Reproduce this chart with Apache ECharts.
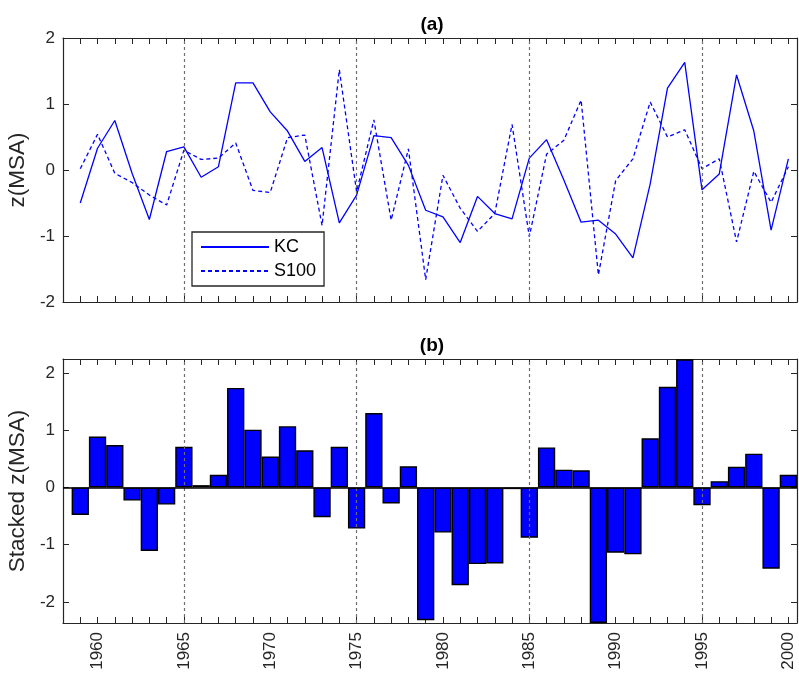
<!DOCTYPE html>
<html>
<head>
<meta charset="utf-8">
<script src="https://cdn.jsdelivr.net/npm/echarts@6/dist/echarts.min.js"></script>
<style>
html,body{margin:0;padding:0;background:#fff;}
#chart{width:799px;height:676px;}
</style>
</head>
<body>
<div id="chart"></div>
<script>
// ---- data ----
var years = [1959,1960,1961,1962,1963,1964,1965,1966,1967,1968,
             1969,1970,1971,1972,1973,1974,1975,1976,1977,1978,
             1979,1980,1981,1982,1983,1984,1985,1986,1987,1988,
             1989,1990,1991,1992,1993,1994,1995,1996,1997,1998,
             1999,2000];
var kc = [-0.50,0.33,0.75,-0.05,-0.75,0.28,0.35,-0.11,0.05,1.32,
          1.32,0.88,0.59,0.13,0.34,-0.80,-0.38,0.52,0.49,0.07,
          -0.61,-0.71,-1.10,-0.40,-0.66,-0.74,0.18,0.46,-0.15,-0.79,
          -0.76,-0.97,-1.33,-0.21,1.24,1.63,-0.30,-0.06,1.44,0.59,
          -0.91,0.17];
var s100 = [0.02,0.54,-0.05,-0.19,-0.38,-0.53,0.30,0.16,0.18,0.41,
            -0.31,-0.34,0.49,0.53,-0.84,1.52,-0.33,0.76,-0.76,0.32,
            -1.66,-0.08,-0.58,-0.93,-0.66,0.69,-1.01,0.24,0.45,1.06,
            -1.59,-0.16,0.17,1.03,0.50,0.61,0.02,0.17,-1.09,-0.02,
            -0.49,0.05];
var stacked = [-0.48,0.89,0.74,-0.23,-1.11,-0.30,0.71,0.04,0.22,1.74,
               1.01,0.54,1.07,0.65,-0.52,0.71,-0.72,1.30,-0.28,0.37,
               -2.32,-0.79,-1.71,-1.34,-1.33,-0.03,-0.88,0.70,0.31,0.30,
               -2.37,-1.14,-1.17,0.86,1.76,2.24,-0.31,0.11,0.36,0.59,
               -1.42,0.22];
var markerYears = [1965,1975,1985,1995];
var xTickValues = [1959,1960,1961,1962,1963,1964,1965,1966,1967,1968,
                   1969,1970,1971,1972,1973,1974,1975,1976,1977,1978,
                   1979,1980,1981,1982,1983,1984,1985,1986,1987,1988,
                   1989,1990,1991,1992,1993,1994,1995,1996,1997,1998,
                   1999,2000];
var xLabelValues = [1960,1965,1970,1975,1980,1985,1990,1995,2000];
var yTicksA = [-2,-1,0,1,2];
var yTicksB = [-2,-1,0,1,2];

function pairs(xs, ys){ return xs.map(function(x,i){ return [x, ys[i]]; }); }

var FONT = "'Liberation Sans', Arial, Helvetica, sans-serif";
var AX = '#262626';
var BLUE = '#0000ff';

function xAxisCfg(grid, pos, labels){
  return {
    type:'value', gridIndex:grid, position:pos, min:1958, max:2000.5,
    axisLine:{show:true, onZero:false, lineStyle:{color:AX, width:1.2}},
    axisTick:{show:true, inside:true, length:6, customValues:xTickValues, lineStyle:{color:AX, width:1}},
    axisLabel:{show:labels, customValues:xLabelValues, rotate:90, margin:9, fontSize:17, color:AX, fontFamily:FONT,
      formatter:function(v){ return String(v); }},
    splitLine:{show:false}
  };
}
function yAxisCfg(grid, pos, labels, min, max, ticks, name){
  return {
    type:'value', gridIndex:grid, position:pos, min:min, max:max,
    name: name || '', nameLocation:'middle', nameGap:23,
    nameTextStyle:{fontSize:22.5, color:AX, fontFamily:FONT},
    axisLine:{show:true, onZero:false, lineStyle:{color:AX, width:1.2}},
    axisTick:{show:true, inside:true, length:6, customValues:ticks, lineStyle:{color:AX, width:1}},
    axisLabel:{show:labels, customValues:ticks, margin:8, fontSize:17, color:AX, fontFamily:FONT,
      formatter:function(v){ return String(v); }},
    splitLine:{show:false}
  };
}

var markerLines = markerYears.map(function(y){ return {xAxis:y}; });
var dashStyle = {color:'#6e6e6e', type:[3,3], width:1.2};

var chart = echarts.init(document.getElementById('chart'), null, {renderer:'canvas'});
chart.setOption({
  animation:false,
  backgroundColor:'#fff',
  textStyle:{fontFamily:FONT},
  grid:[
    {left:63, top:38, width:734, height:264, containLabel:false, outerBoundsMode:'none'},
    {left:63, top:359, width:734, height:264, containLabel:false, outerBoundsMode:'none'}
  ],
  xAxis:[
    xAxisCfg(0,'bottom',false),
    xAxisCfg(0,'top',false),
    xAxisCfg(1,'bottom',true),
    xAxisCfg(1,'top',false)
  ],
  yAxis:[
    yAxisCfg(0,'left',true,-2,2,yTicksA,'z(MSA)'),
    yAxisCfg(0,'right',false,-2,2,yTicksA),
    yAxisCfg(1,'left',true,-2.37,2.245,yTicksB,'Stacked z(MSA)'),
    yAxisCfg(1,'right',false,-2.37,2.245,yTicksB)
  ],
  graphic:[
    {type:'text', x:432, y:25, style:{text:'(a)', font:'bold 19px '+FONT, fill:'#000', textAlign:'center', textVerticalAlign:'middle'}},
    {type:'text', x:432, y:346, style:{text:'(b)', font:'bold 19px '+FONT, fill:'#000', textAlign:'center', textVerticalAlign:'middle'}}
  ],
  legend:{
    orient:'vertical', left:192, top:232,
    padding:[6,8,6,8], itemGap:6, itemWidth:68, itemHeight:14,
    borderColor:AX, borderWidth:1.3, backgroundColor:'#fff',
    itemStyle:{opacity:0},
    textStyle:{fontSize:18, color:'#000', fontFamily:FONT},
    data:['KC','S100']
  },
  series:[
    {
      name:'KC', type:'line', xAxisIndex:0, yAxisIndex:0,
      data:pairs(years,kc), symbol:'none', showSymbol:false,
      lineStyle:{color:BLUE, width:1.3}, itemStyle:{color:BLUE},
      markLine:{silent:true, symbol:['none','none'], label:{show:false}, lineStyle:dashStyle, data:markerLines},
      z:3
    },
    {
      name:'S100', type:'line', xAxisIndex:0, yAxisIndex:0,
      data:pairs(years,s100), symbol:'none', showSymbol:false,
      lineStyle:{color:BLUE, width:1.3, type:[4,3]}, itemStyle:{color:BLUE},
      z:3
    },
    {
      name:'Stacked', type:'bar', xAxisIndex:2, yAxisIndex:2,
      data:pairs(years,stacked), barWidth:17.3,
      itemStyle:{color:BLUE, borderColor:'#000', borderWidth:1.4},
      markLine:{silent:true, symbol:['none','none'], label:{show:false}, lineStyle:dashStyle,
        data: markerLines.concat([{yAxis:0, lineStyle:{color:'#000', type:'solid', width:1.5}}])},
      z:2
    }
  ]
});
</script>
</body>
</html>
